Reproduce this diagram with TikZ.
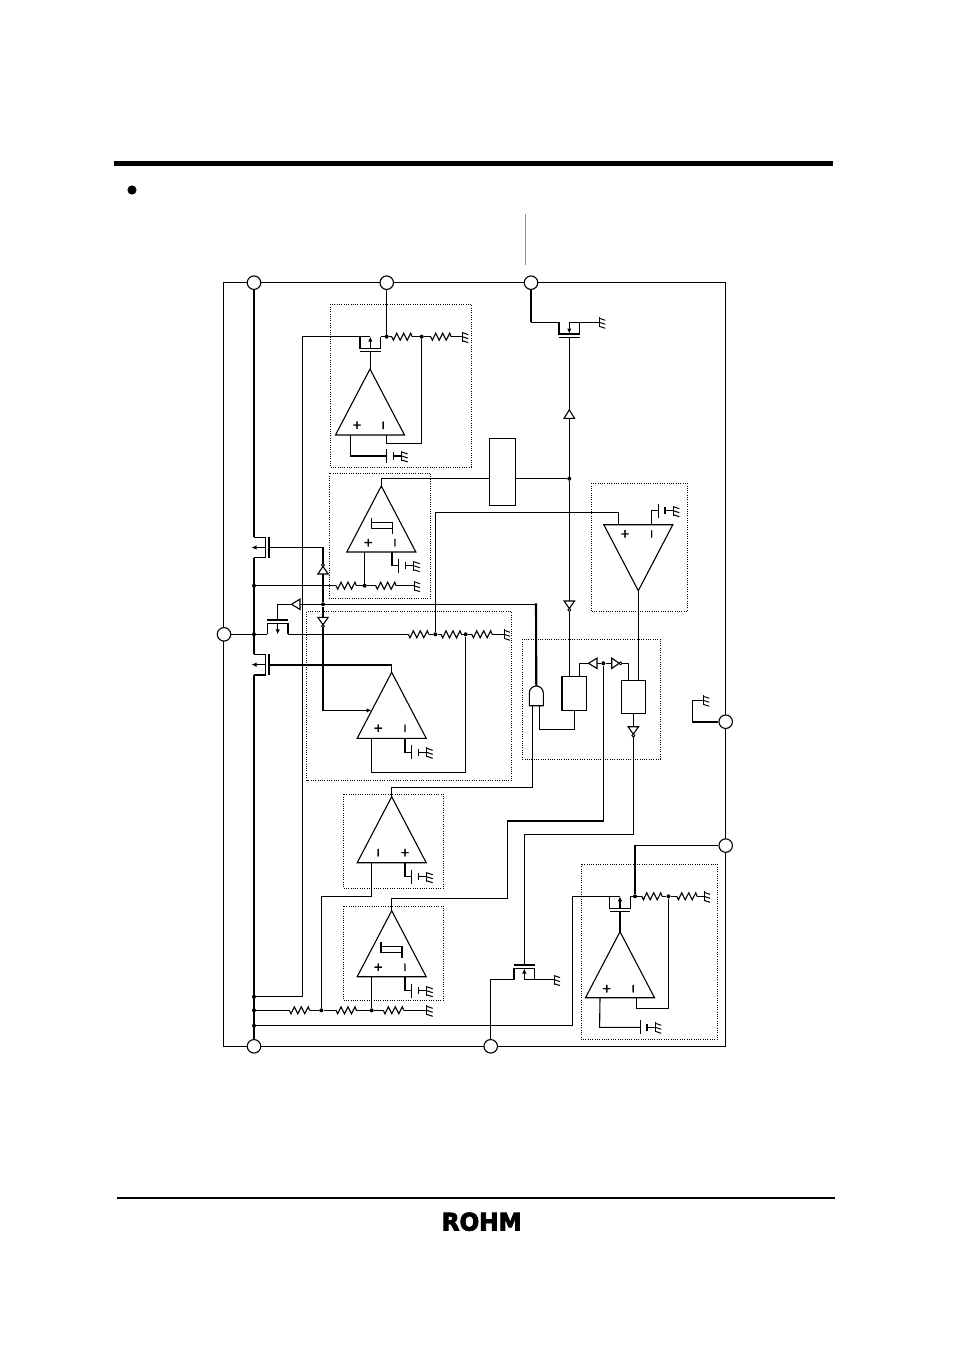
\documentclass[tikz,border=0pt]{standalone}
\usepackage{fontspec}
\usetikzlibrary{arrows.meta,calc}
\newfontfamily\markfont[FakeBold=1.2]{Liberation Sans}
\newfontfamily\logofont[FakeBold=3.5]{DejaVu Sans}
\tikzset{
  wire/.style={line width=1.1pt,line join=miter,line cap=butt},
  thickwire/.style={line width=2.1pt},
  midwire/.style={line width=1.5pt},
  pin/.style={circle,draw,fill=white,line width=1.1pt,minimum size=13.5pt,inner sep=0pt},
  jn/.style={circle,fill=black,minimum size=4pt,inner sep=0pt},
  blk/.style={rectangle,draw,fill=white,line width=1.1pt,inner sep=0pt},
  dotbox/.style={draw,line width=1pt,dash pattern=on 1pt off 1.3pt},
  mk/.style={font=\markfont\fontsize{15}{15}\selectfont,inner sep=0pt,text height=9.8pt,text depth=0pt},
  tip/.style={-{Latex[length=5pt,width=4.5pt]}}
}
% ground symbol
\newcommand\gnd[2]{\draw[line width=1pt] ({#1},{#2-5})--({#1},{#2+5});
  \foreach \dy in {-4,0,4}{\draw[line width=1pt] ({#1},{#2+\dy})--({#1+6},{#2+\dy+2});}}
% resistor, 20.4 wide, starting at x,y
\newcommand\res[2]{\draw[wire,line join=miter] ({#1},{#2})--({#1+1.7},{#2+3.5})--({#1+5},{#2-3.5})--({#1+8.5},{#2+3.5})--({#1+12},{#2-3.5})--({#1+15.5},{#2+3.5})--({#1+19},{#2-3.5})--({#1+20.4},{#2});}
% capacitor-like reference with ground
\newcommand\batgnd[2]{\draw[line width=1.2pt] ({#1},{#2-7})--({#1},{#2+7});
  \draw[line width=1.2pt] ({#1+6.7},{#2-3.7})--({#1+6.7},{#2+3.7});
  \draw[wire] ({#1+6.7},{#2})--({#1+15},{#2});
  \gnd{#1+15}{#2}}
% op amp: name, apex x, apex y, height sign(+1 apex up, -1 apex down)
\newcommand\oamp[4]{\coordinate (#1) at (#2,#3);
  \draw[wire,line join=miter,fill=white] ({#2},{#3})--({#2-34.5},{#3+#4*66})--({#2+34.5},{#3+#4*66})--cycle;}
\newcommand\plusmk[2]{\node[mk] at (#1,#2) {+};}
\newcommand\minusmk[2]{\node[mk,rotate=90] at (#1,#2) {\char"2212};}
\newcommand\hyst[2]{\draw[wire] ({#1},{#2-4})--({#1},{#2+6.4})--({#1+21},{#2+6.4});
  \draw[wire] ({#1},{#2})--({#1+21},{#2})--({#1+21},{#2+12});}
% triangle buffer: x,y (middle of the base), angle, bubble (1/0)
\newcommand\buf[3]{\begin{scope}[shift={(#1,#2)},rotate=#3]
  \draw[wire,fill=white,line join=miter] (0,-5.2)--(8.5,0)--(0,5.2)--cycle;\end{scope}}
\newcommand\inv[3]{\begin{scope}[shift={(#1,#2)},rotate=#3]
  \draw[wire,fill=white,line join=miter] (0,-5.2)--(7.5,0)--(0,5.2)--cycle;
  \draw[line width=.9pt,fill=white] (8.9,0) circle (1.5pt);\end{scope}}
% horizontal MOS: centre x, outer y, channel y, gate y, arrow from y, arrow to y
\newcommand\mosh[6]{\draw[wire] ({#1-10.3},{#2})--({#1-10.3},{#3})--({#1+10.3},{#3})--({#1+10.3},{#2});
  \draw[line width=1.3pt] ({#1-10.3},{#4})--({#1+10.3},{#4});
  \draw[wire,tip] ({#1},{#5})--({#1},{#6});}
% vertical pass MOS on the x=254 rail
\newcommand\mosv[2]{\draw[line width=1.4pt] (254,#1)--(265.7,#1)--(265.7,#2)--(254,#2);
  \draw[line width=1.4pt] (269,#1)--(269,#2);
  \draw[wire,tip] (265,{(#1+#2)/2})--(251.5,{(#1+#2)/2});}
\begin{document}
\begin{tikzpicture}[x=1pt,y=-1pt]
\path[fill=white] (0,0) rectangle (954,1351);
\useasboundingbox (0,0) rectangle (954,1351);
% page furniture
\fill[black] (114,161) rectangle (833,166);
\fill[black] (132,190) circle (4.6pt);
\fill[black] (117,1196.8) rectangle (835,1198.6);
\node[inner sep=0pt] (logo) at (481.7,1221.7) {\resizebox{80pt}{18pt}{\logofont\bfseries ROHM}};
\coordinate (pt) at (525.5,214); \coordinate (pb) at (525.5,265);
\draw[line width=1pt,black!45] (pt)--(pb);
% outer frame
\node[draw,line width=1.1pt,minimum width=502.2pt,minimum height=763.6pt,inner sep=0pt] (frame) at (474.6,664.5) {};
% pins
\node[pin] (P1) at (254,282.7) {};
\node[pin] (P2) at (386.7,282.7) {};
\node[pin] (P3) at (531,282.7) {};
\node[pin] (P4) at (224,634.3) {};
\node[pin] (P5) at (725.7,721.7) {};
\node[pin] (P6) at (725.7,845.6) {};
\node[pin] (P7) at (254,1046.3) {};
\node[pin] (P8) at (490.7,1046.3) {};
% junctions
\foreach \n/\x/\y in {a/386.7/336.7,b/421.7/336.7,c/569.3/478.7,d/254/585.7,e/364.7/585.7,f/323/604.3,
  g/254/634.3,h/435.3/634.3,i/465.7/634.3,j/603.3/663.3,k/254/996.7,l/254/1010.3,m/321.3/1010.3,
  n/371.7/1010.3,o/254/1025.7,q/635/896.3,r/668.5/896.3}{\node[jn] (\n) at (\x,\y) {};}
% dotted blocks
\draw[dotbox] (330,304.3) rectangle (471.3,467);
\draw[dotbox] (329.3,473.3) rectangle (430.7,598.3);
\draw[dotbox] (306.7,611.7) rectangle (511.7,780.3);
\draw[dotbox] (591.3,483.3) rectangle (687.3,611.7);
\draw[dotbox] (522.3,639.3) rectangle (660.3,759);
\draw[dotbox] (343.3,794.3) rectangle (443.3,888.3);
\draw[dotbox] (343.3,906.3) rectangle (443.3,1000.3);
\draw[dotbox] (581.3,864) rectangle (717.3,1039.3);
% rail
\draw[thickwire] (P1)--(254,537.3);
\draw[thickwire] (254,557.7)--(254,654.3);
\draw[thickwire] (254,675)--(P7);
% logic blocks
\node[blk,minimum width=26.4pt,minimum height=67pt] (cmpbox) at (502.5,471.8) {};
\node[blk,minimum width=23.6pt,minimum height=34pt] (boxA) at (574.5,693.3) {};
\node[blk,minimum width=24.4pt,minimum height=33pt] (boxB) at (633.5,696.8) {};
\draw[line width=2pt] (boxA.north west)--(boxA.south west);
% AND gate
\coordinate (and) at (536.3,686);
\draw[wire,fill=white] (529.3,705.7)--(529.3,693) arc[start angle=180,end angle=0,radius=7pt]--(543.3,705.7)--cycle;
% Block 1 (top regulator)
\draw[wire] (P2)--(a);
\draw[wire] (302.3,996.7)--(302.3,336.7)--(370,336.7);
\draw[wire] (k)--(302.3,996.7);
\mosh{370.3}{336.7}{348.6}{351.7}{348.6}{336.7}
\draw[wire] (380.6,336.7)--(a)--(391.7,336.7);
\res{391.7}{336.7}
\draw[wire] (412.1,336.7)--(b)--(430.7,336.7);
\res{430.7}{336.7}
\draw[wire] (451.1,336.7)--(462.3,336.7);
\gnd{462.3}{336.7}
\draw[wire] (370.3,351.7)--(370.3,369);
\oamp{oa1}{370}{369}{1}
\plusmk{357}{425.3}\minusmk{383.3}{425.3}
\draw[wire] ($(oa1)+(16.7,66)$)--(386.7,443.3)--(421.7,443.3)--(b);
\draw[wire] ($(oa1)+(-19.7,66)$)--(350.3,456)--(386.7,456);
\batgnd{386.7}{456}
% Block 2 (comparator with hysteresis)
\oamp{oa2}{381.3}{486}{1}
\plusmk{368.3}{542.7}\minusmk{395}{542.7}
\hyst{371.3}{522.4}
\draw[wire] (oa2)--(381.3,478.7)--(cmpbox.west |- c);
\draw[wire] (cmpbox.east |- c)--(c);
\draw[wire] ($(oa2)+(-16.6,66)$)--(e);
\draw[wire] ($(oa2)+(10.7,66)$)--(392,565.7)--(398.7,565.7);
\batgnd{398.7}{565.7}
\draw[wire] (d)--(336,585.7);
\res{336}{585.7}
\draw[wire] (356.4,585.7)--(e)--(375.7,585.7);
\res{375.7}{585.7}
\draw[wire] (396.1,585.7)--(414,585.7);
\gnd{414}{585.7}
% Pass transistors
\mosv{537.3}{557.7}
\mosv{654.3}{675}
\draw[wire] (269,547.3)--(323,547.3)--(f);
\mosh{277.7}{634.3}{623.7}{620}{623.7}{634.3}
\draw[wire] (P4)--(g)--(267.4,634.3);
\draw[wire] (288,634.3)--(408.3,634.3);
\res{408.3}{634.3}
\draw[wire] (428.7,634.3)--(h)--(441,634.3);
\res{441}{634.3}
\draw[wire] (461.4,634.3)--(i)--(471.7,634.3);
\res{471.7}{634.3}
\draw[wire] (492.1,634.3)--(504,634.3);
\gnd{504}{634.3}
\draw[wire] (h)--(435.3,512.3)--(618.3,512.3)--(618.3,524);
% disable line and AND gate
\draw[wire] (277.7,620)--(277.7,604.3)--(536,604.3);
\draw[thickwire] (536,603.3)--(and);
\draw[midwire] (f)--(323,710.4);
\draw[wire,tip] (322.3,710.4)--(371.5,710.4);
% Block 3 (main amp)
\draw[thickwire] (269,665)--(391.7,665);
\oamp{oa3}{391.7}{672.3}{1}
\draw[wire] (391.7,665)--(oa3);
\plusmk{378.3}{728.3}\minusmk{405}{728.3}
\draw[wire] ($(oa3)+(-20,66)$)--(371.7,772.3)--(465.7,772.3)--(i);
\draw[wire] ($(oa3)+(13.3,66)$)--(405,752.3)--(411.7,752.3);
\batgnd{411.7}{752.3}
% right side drive
\draw[midwire] (P3)--(531,322.3);
\draw[wire] (531,322.3)--(559,322.3);
\mosh{569.3}{322.3}{334}{337.7}{322.3}{333.5}
\draw[wire] (569.3,322.3)--(599.3,322.3);
\gnd{599.3}{322.3}
\draw[wire] (569.3,337.7)--(569.3,410);
\draw[wire] (569.3,418.3)--(c)--(569.3,601);
\draw[wire] (569.7,611)--(569.7,676.3);
% comparator 3
\oamp{oa4}{638.3}{590.7}{-1}
\plusmk{625}{534}\minusmk{651.7}{534}
\draw[wire] ($(oa4)+(13.4,-66)$)--(651.7,510.7)--(658.3,510.7);
\batgnd{658.3}{510.7}
\draw[wire] (oa4)--(638.3,680.3);
% logic
\draw[wire] (532.7,705.7)--(532.7,787.3)--(391.7,787.3)--(391.7,796);
\draw[wire] (539.7,705.7)--(539.7,729.6)--(574.3,729.6)--(574.3,710.3);
\draw[wire] (579.3,676.3)--(579.3,663.3)--(597,663.3)--(j)--(611.7,663.3)--(628.3,663.3)--(628.3,680.3);
\draw[wire] (633.3,713.3)--(633.3,834.3)--(524.3,834.3)--(524.3,965);
\draw[midwire] (j)--(603.3,821);
\draw[thickwire] (604.05,821)--(507,821);
\draw[wire] (507.7,821)--(507.7,898.3)--(391.7,898.3)--(391.7,910);
% Block 4
\oamp{oa5}{391.7}{796.7}{1}
\minusmk{378.3}{852.7}\plusmk{405}{852.7}
\draw[wire] ($(oa5)+(-20,66)$)--(371.7,896.3)--(321.3,896.3)--(m);
\draw[wire] ($(oa5)+(13.3,66)$)--(405,876.7)--(411.7,876.7);
\batgnd{411.7}{876.7}
% Block 5
\oamp{oa6}{391.7}{910.7}{1}
\plusmk{378.3}{967.3}\minusmk{405}{967.3}
\hyst{381}{946.4}
\draw[wire] ($(oa6)+(-20,66)$)--(n);
\draw[wire] ($(oa6)+(13.3,66)$)--(405,990.7)--(411.7,990.7);
\batgnd{411.7}{990.7}
% bottom chain
\draw[wire] (l)--(289.3,1010.3);
\res{289.3}{1010.3}
\draw[wire] (309.7,1010.3)--(m)--(336,1010.3);
\res{336}{1010.3}
\draw[wire] (356.4,1010.3)--(n)--(383.3,1010.3);
\res{383.3}{1010.3}
\draw[wire] (403.7,1010.3)--(426.7,1010.3);
\gnd{426.7}{1010.3}
% bottom MOS
\mosh{524.3}{979.6}{968.3}{965}{979.6}{968.5}
\draw[wire] (514,979.6)--(490.7,979.6)--(P8);
\draw[wire] (524.3,979.6)--(554,979.6);
\gnd{554}{979.6}
% Block 6
\draw[wire] (o)--(572.7,1025.7)--(572.7,896.3)--(620,896.3);
\mosh{620}{896.3}{908.7}{911.7}{908.7}{896.3}
\draw[wire] (630,896.3)--(q)--(641.7,896.3);
\draw[wire] (q)--(635,845.6)--(P6);
\res{641.7}{896.3}
\draw[wire] (662.1,896.3)--(r)--(676.7,896.3);
\res{676.7}{896.3}
\draw[wire] (697.1,896.3)--(704,896.3);
\gnd{704}{896.3}
\draw[wire] (620,911.7)--(620,931.7);
\oamp{oa7}{620}{931.7}{1}
\plusmk{606.7}{988.7}\minusmk{633.3}{988.7}
\draw[wire] (r)--(668.5,1008.6)--(636.7,1008.6)--($(oa7)+(16.7,66)$);
\draw[wire] ($(oa7)+(-20,66)$)--(599.6,1027.3)--(640.3,1027.3);
\batgnd{640.3}{1027.3}
% ground at right pin
\draw[thickwire] (P5)--(692.3,721.7);
\draw[wire] (692.3,722.7)--(692.3,700.3)--(703.3,700.3);
\gnd{703.3}{700.3}
% buffers on top of the wires
\inv{323}{574}{90}
\draw[wire] (323,574)--(f);
\buf{300}{604.3}{180}
\inv{323}{617.3}{-90}
\buf{569.3}{418.3}{90}
\inv{569.3}{601}{-90}
\buf{597}{663.3}{180}
\inv{611.7}{663.3}{0}
\inv{633.3}{726.7}{-90}
\draw[wire] (633.3,713.3)--(633.3,726.7);
\end{tikzpicture}
\end{document}
